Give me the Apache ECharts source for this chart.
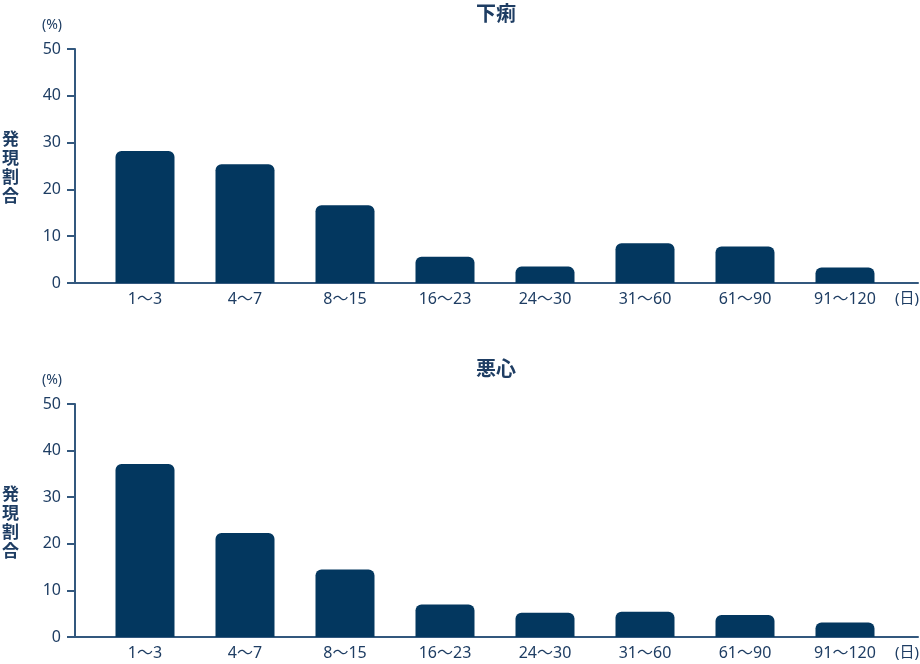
<!DOCTYPE html>
<html>
<head>
<meta charset="utf-8">
<script src="https://cdn.jsdelivr.net/npm/echarts@6/dist/echarts.min.js"></script>
<style>
html,body{margin:0;padding:0;background:#fff;}
#chart{width:920px;height:664px;}
</style>
</head>
<body>
<div id="chart"></div>
<script>
const categories = ['1〜3', '4〜7', '8〜15', '16〜23', '24〜30', '31〜60', '61〜90', '91〜120'];
const diarrheaValues = [28.2, 25.4, 16.6, 5.6, 3.5, 8.5, 7.8, 3.3];
const nauseaValues = [37.1, 22.3, 14.5, 7.0, 5.2, 5.4, 4.7, 3.1];
const yTicks = [0, 10, 20, 30, 40, 50];
const titles = ['下痢', '悪心'];

const FONT = '"Noto Sans", "Noto Sans CJK JP", sans-serif';
const CJK = '"Noto Sans CJK JP", sans-serif';
const TEXT = '#1e3d63';
const AXIS = '#33587e';
const BAR = '#03375f';

const chart = echarts.init(document.getElementById('chart'));

const panels = [
  { top: 49, bottom: 381, values: diarrheaValues, title: titles[0], titleTop: 3, sideTop: 129 },
  { top: 404, bottom: 27, values: nauseaValues, title: titles[1], titleTop: 358, sideTop: 484 }
];

const grid = [], xAxis = [], yAxis = [], series = [], title = [];
panels.forEach((p, i) => {
  const gAxes = i * 2, gBars = i * 2 + 1;
  grid.push({ left: 75, right: 2, top: p.top, bottom: p.bottom });
  grid.push({ left: 95, right: 25, top: p.top, bottom: p.bottom });
  xAxis.push({
    gridIndex: gAxes, type: 'value', min: 0, max: 1,
    axisLine: { show: true, lineStyle: { color: AXIS, width: 2 } },
    axisTick: { show: false }, axisLabel: { show: false }, splitLine: { show: false }
  });
  yAxis.push({
    gridIndex: gAxes, type: 'value', min: yTicks[0], max: yTicks[yTicks.length - 1], interval: 10,
    name: '(%)', nameLocation: 'end', nameGap: 17,
    nameTextStyle: { color: TEXT, fontFamily: FONT, fontSize: 14, align: 'right', padding: [0, 13, 0, 0] },
    axisLine: { show: true, lineStyle: { color: AXIS, width: 2 } },
    axisTick: { show: true, inside: false, length: 8, lineStyle: { color: AXIS, width: 2 } },
    axisLabel: { color: TEXT, fontFamily: FONT, fontSize: 16, margin: 14 },
    splitLine: { show: false }
  });
  xAxis.push({
    gridIndex: gBars, type: 'category', data: categories,
    name: '(日)', nameLocation: 'end', nameGap: 0,
    nameTextStyle: { color: TEXT, fontFamily: FONT, fontSize: 15, verticalAlign: 'top', padding: [8, 0, 0, 0] },
    axisLine: { show: false }, axisTick: { show: false },
    axisLabel: { color: TEXT, fontFamily: FONT, fontSize: 16, margin: 8 }
  });
  yAxis.push({ gridIndex: gBars, type: 'value', min: 0, max: 50, show: false });
  series.push({
    type: 'bar', xAxisIndex: gBars, yAxisIndex: gBars, data: p.values,
    barWidth: 59, itemStyle: { color: BAR, borderRadius: [6, 6, 0, 0] }, silent: true
  });
  title.push({
    text: p.title, left: 496, textAlign: 'center', top: p.titleTop, padding: 0,
    textStyle: { color: TEXT, fontFamily: CJK, fontSize: 20, fontWeight: 'bold' }
  });
  title.push({
    text: '発\n現\n割\n合', left: 2, top: p.sideTop, padding: 0,
    textStyle: { color: TEXT, fontFamily: CJK, fontSize: 17, fontWeight: 'bold', lineHeight: 19 }
  });
});

chart.setOption({ animation: false, title, grid, xAxis, yAxis, series });
</script>
</body>
</html>
